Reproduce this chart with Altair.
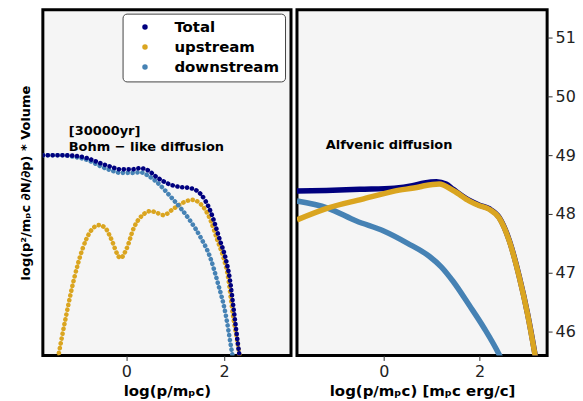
import altair as alt
import pandas as pd

SERIES = ["Total", "upstream", "downstream"]
COLORS = ["#00007F", "#DAA520", "#4682B4"]

# ---- left panel (Bohm-like diffusion) ----
L_tot_x = [-1.71, -1.3, -1.05, -0.8, -0.52, -0.3, -0.12, 0.1, 0.29, 0.45, 0.6, 0.9, 1.1, 1.31, 1.52, 1.72, 1.92, 2.03, 2.12, 2.2, 2.31, 2.34]
L_tot_y = [49.0, 49.0, 48.99, 48.95, 48.86, 48.8, 48.76, 48.76, 48.78, 48.74, 48.64, 48.5, 48.46, 48.44, 48.34, 48.05, 47.54, 47.25, 46.88, 46.35, 45.62, 45.45]

L_up_x = [-1.4, -1.25, -1.07, -0.9, -0.73, -0.56, -0.42, -0.32, -0.12, 0.0, 0.15, 0.36, 0.5, 0.62, 0.76, 0.95, 1.11, 1.35, 1.52, 1.72, 1.86, 1.99, 2.07, 2.19, 2.29, 2.33]
L_up_y = [45.55, 46.2, 46.9, 47.4, 47.71, 47.81, 47.75, 47.59, 47.25, 47.4, 47.76, 48.0, 48.05, 48.02, 47.98, 48.08, 48.17, 48.24, 48.17, 47.9, 47.56, 47.25, 46.98, 46.23, 45.73, 45.5]

L_dn_x = [-1.71, -1.3, -1.05, -0.8, -0.52, -0.3, -0.12, 0.1, 0.29, 0.45, 0.6, 0.9, 1.11, 1.31, 1.52, 1.72, 1.86, 2.03, 2.15, 2.19]
L_dn_y = [49.0, 49.0, 48.97, 48.92, 48.81, 48.74, 48.7, 48.7, 48.71, 48.65, 48.56, 48.3, 48.1, 47.88, 47.6, 47.25, 46.86, 46.3, 45.7, 45.5]

# ---- right panel (Alfvenic diffusion) ----
R_tot_x = [-1.81, -1.2, -0.5, 0.22, 0.6, 0.85, 1.1, 1.3, 1.45, 1.79, 2.0, 2.2, 2.41, 2.62, 2.83, 3.0, 3.14, 3.2]
R_tot_y = [48.39, 48.4, 48.42, 48.44, 48.48, 48.53, 48.55, 48.51, 48.42, 48.23, 48.15, 48.09, 47.94, 47.55, 46.93, 46.31, 45.69, 45.4]

R_up_x = [-1.81, -1.17, -0.46, 0.22, 0.74, 0.85, 1.16, 1.45, 1.79, 2.0, 2.2, 2.41, 2.62, 2.83, 3.0, 3.14, 3.2]
R_up_y = [47.9, 48.1, 48.25, 48.39, 48.46, 48.48, 48.51, 48.4, 48.22, 48.14, 48.08, 47.93, 47.54, 46.92, 46.3, 45.68, 45.4]

R_dn_x = [-1.81, -1.17, -0.57, 0.0, 0.5, 0.95, 1.2, 1.45, 1.79, 2.1, 2.4, 2.5]
R_dn_y = [48.22, 48.1, 47.88, 47.71, 47.5, 47.28, 47.1, 46.85, 46.44, 46.05, 45.62, 45.45]

Y_DOMAIN = [45.59, 51.48]
L_X_DOMAIN = [-1.71, 3.37]
R_X_DOMAIN = [-1.81, 3.41]
Y_TICKS = [46, 47, 48, 49, 50, 51]
X_TICKS = [0, 2]

L_notes = ["[30000yr]", "Bohm \u2212 like diffusion"]
L_notes_x = [-1.18, -1.18]
L_notes_y = [49.41, 49.14]
R_notes = ["Alfvenic diffusion"]
R_notes_x = [-1.21]
R_notes_y = [49.17]

FONT = "DejaVu Sans"


def frame(xs, ys, name):
    return pd.DataFrame({"x": xs, "y": ys, "series": name})


color_scale = alt.Scale(domain=SERIES, range=COLORS)
legend = alt.Legend(
    title=None, orient="none", legendX=-175, legendY=4,
    symbolType="circle", symbolSize=30, symbolOpacity=1, symbolStrokeWidth=0,
    labelFont=FONT, labelFontWeight="bold", labelFontSize=15, labelColor="black",
    fillColor="white", strokeColor="#444", cornerRadius=4,
    padding=6, rowPadding=4, labelOffset=22, symbolOffset=9,
)


def xaxis(title):
    return alt.Axis(values=X_TICKS, format="d", title=title, domain=False, grid=False,
                    tickSize=5, tickColor="#333", labelFont=FONT, labelFontSize=16,
                    labelColor="#222", labelPadding=3, titleFont=FONT, titleFontSize=15,
                    titleFontWeight="bold", titleColor="black", titlePadding=4)


def enc(chart, xdom, yaxis, xtitle, leg):
    return chart.encode(
        x=alt.X("x:Q", scale=alt.Scale(domain=xdom, nice=False, zero=False), axis=xaxis(xtitle)),
        y=alt.Y("y:Q", scale=alt.Scale(domain=Y_DOMAIN, nice=False, zero=False), axis=yaxis),
        color=alt.Color("series:N", scale=color_scale, legend=leg),
    )


def layer_lines(dfs, xdom, yaxis, xtitle, dotted):
    layers = []
    for d in dfs:
        if dotted:
            mk = alt.Chart(d).mark_line(strokeWidth=4.6, strokeCap="round", strokeDash=[0.1, 4.8],
                                        interpolate="monotone", clip=True)
        else:
            mk = alt.Chart(d).mark_line(strokeWidth=5.5, strokeCap="butt",
                                        interpolate="monotone", clip=True)
        layers.append(enc(mk, xdom, yaxis, xtitle, None))
    return layers


left_y_axis = alt.Axis(orient="left", labels=False, ticks=False, domain=False, grid=False,
                       title="log(p\u00b2/m\u209ac \u2202N/\u2202p) * Volume",
                       titleFont=FONT, titleFontSize=13, titleFontWeight="bold",
                       titleColor="black", titlePadding=10)
right_y_axis = alt.Axis(orient="right", values=Y_TICKS, format="d", domain=False, grid=False,
                        title=None, tickSize=5, tickColor="#333", labelFont=FONT,
                        labelFontSize=16, labelColor="#222", labelPadding=3)

left_dfs = [frame(L_up_x, L_up_y, "upstream"), frame(L_dn_x, L_dn_y, "downstream"),
            frame(L_tot_x, L_tot_y, "Total")]
right_dfs = [frame(R_tot_x, R_tot_y, "Total"), frame(R_dn_x, R_dn_y, "downstream"),
             frame(R_up_x, R_up_y, "upstream")]

# zero-size point layer that only carries the legend (filled dot symbols)
legend_carrier = enc(alt.Chart(pd.concat(right_dfs)).mark_circle(size=0),
                     R_X_DOMAIN, right_y_axis, "log(p/m\u209ac) [m\u209ac erg/c]", legend)

left_notes = alt.Chart(pd.DataFrame({"x": L_notes_x, "y": L_notes_y, "t": L_notes})).mark_text(
    align="left", baseline="middle", font=FONT, fontSize=13, fontWeight="bold", color="black"
).encode(x="x:Q", y="y:Q", text="t:N")
right_notes = alt.Chart(pd.DataFrame({"x": R_notes_x, "y": R_notes_y, "t": R_notes})).mark_text(
    align="left", baseline="middle", font=FONT, fontSize=13, fontWeight="bold", color="black"
).encode(x="x:Q", y="y:Q", text="t:N")

left = alt.layer(*layer_lines(left_dfs, L_X_DOMAIN, left_y_axis, "log(p/m\u209ac)", True),
                 left_notes).properties(width=249, height=347)
right = alt.layer(legend_carrier,
                  *layer_lines(right_dfs, R_X_DOMAIN, right_y_axis,
                               "log(p/m\u209ac) [m\u209ac erg/c]", False),
                  right_notes).properties(width=251, height=347)

chart = alt.hconcat(left, right, spacing=6, bounds="flush").resolve_scale(
    x="independent", y="independent", color="independent"
).resolve_legend(color="independent").properties(
    padding={"left": 18, "top": 7, "right": 6, "bottom": 0},
    background="white",
).configure_view(stroke="black", strokeWidth=3, fill="#F5F5F5")

chart.save("out.html", embed_options={"renderer": "svg", "actions": False})
